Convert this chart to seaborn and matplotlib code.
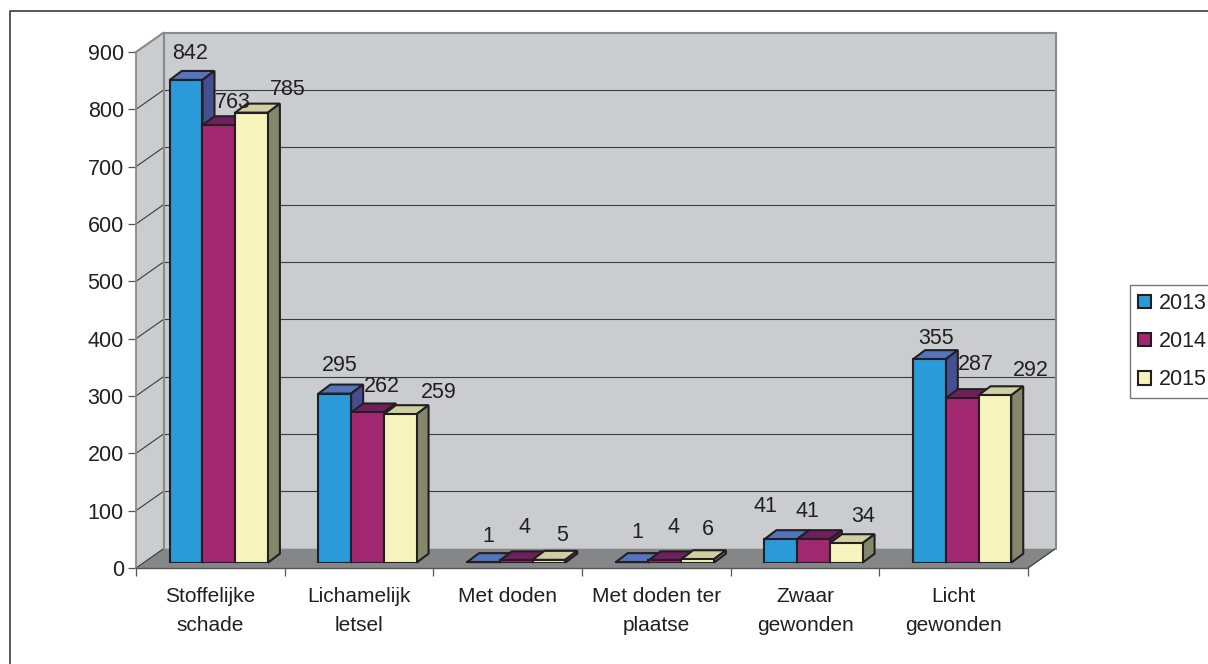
#!/usr/bin/env python3
"""Excel-style 3D column chart of accidents per year, drawn on a seaborn barplot."""

import matplotlib
matplotlib.use("Agg")
import matplotlib.pyplot as plt
import pandas as pd
import seaborn as sns
from matplotlib.lines import Line2D
from matplotlib.patches import Polygon
from matplotlib.transforms import IdentityTransform

categories = [
    "Stoffelijke\nschade",
    "Lichamelijk\nletsel",
    "Met doden",
    "Met doden ter\nplaatse",
    "Zwaar\ngewonden",
    "Licht\ngewonden",
]
years = ["2013", "2014", "2015"]
values_2013 = [842, 295, 1, 1, 41, 355]
values_2014 = [763, 262, 4, 4, 41, 287]
values_2015 = [785, 259, 5, 6, 34, 292]
y_ticks = [0, 100, 200, 300, 400, 500, 600, 700, 800, 900]

front_colors = ["#2a9bd8", "#a12870", "#f6f3bd"]
top_colors = ["#5474bd", "#6f1f5e", "#cfd0a2"]
side_colors = ["#465091", "#5e1a50", "#85876b"]
INK = "#231f20"
WALL = "#cbccd0"
FLOOR = "#858687"
EDGE = "#8a8a8a"
FONT_SIZE = 15.5
BAR_LW = 1.5

# pixel nudges of the value labels from the bar top, per year then category
label_nudge_2013 = [(4, 26), (5, 28), (5, 26), (5, 30), (-15, 33), (7, 21)]
label_nudge_2014 = [(14, 23), (14, 26), (8, 33), (9, 33), (-6, 28), (14, 34)]
label_nudge_2015 = [(36, 23), (39, 22), (13, 24), (10, 30), (17, 27), (36, 25)]

W, H = 1208, 664
BAR_DEPTH = (12, 9)
BACK = (19, 14)  # back wall relative to the bar plane
FRONT = (-8.5, -5.3)  # axis plane relative to the bar plane


def box(left, top, right, bottom):
    return [left / W, 1 - bottom / H, (right - left) / W, (bottom - top) / H]


def main() -> None:
    sns.set_theme(style="white", font="Liberation Sans")
    plt.rcParams["font.family"] = ["Liberation Sans", "DejaVu Sans"]
    plt.rcParams["text.color"] = INK

    df = pd.DataFrame(
        {"categorie": categories, "2013": values_2013, "2014": values_2014, "2015": values_2015}
    ).melt(id_vars="categorie", var_name="jaar", value_name="aantal")

    fig = plt.figure(figsize=(W / 100, H / 100), dpi=100)
    ax_front = fig.add_axes(box(136, 52, 1028, 568), zorder=0)
    ax = fig.add_axes(box(144.5, 46.7, 1036.5, 562.7), zorder=1)

    sns.barplot(
        ax=ax,
        data=df,
        x="categorie",
        y="aantal",
        hue="jaar",
        hue_order=years,
        order=categories,
        palette=front_colors,
        saturation=1,
        width=0.66,
        edgecolor=INK,
        linewidth=BAR_LW,
    )
    ax.set_xlim(-0.5, 5.5)
    ax.set_ylim(0, 900)

    # front plane: ticks and category labels
    ax_front.set_xlim(-0.5, 5.5)
    ax_front.set_ylim(0, 900)
    ax_front.patch.set_visible(False)
    sns.despine(ax=ax_front)
    ax_front.spines["left"].set_color(EDGE)
    ax_front.spines["left"].set_linewidth(1.3)
    ax_front.spines["bottom"].set_color("#555555")
    ax_front.spines["bottom"].set_linewidth(1.0)
    ax_front.set_yticks(y_ticks)
    ax_front.set_xticks([i - 0.5 for i in range(7)])
    ax_front.set_xticklabels([])
    ax_front.set_xticks(range(6), categories, minor=True, linespacing=1.66)
    ax_front.tick_params(axis="y", length=5.8, width=0.9, color="#555555", pad=3,
                         labelsize=FONT_SIZE, labelcolor=INK, left=True)
    ax_front.tick_params(axis="x", which="major", length=5.8, width=0.9, color="#555555", bottom=True)
    ax_front.tick_params(axis="x", which="minor", length=0, pad=14, labelsize=15, labelcolor=INK)

    disp = IdentityTransform()

    def pt(x, y, off=(0, 0)):
        px, py = ax.transData.transform((x, y))
        return (px + off[0], py + off[1])

    def poly(target, points, color, zorder, edge="none", lw=0):
        target.add_patch(Polygon(points, closed=True, facecolor=color, edgecolor=edge, linewidth=lw,
                                 transform=disp, clip_on=False, zorder=zorder, joinstyle="miter"))

    def line(target, a, b, color, lw, zorder):
        target.add_line(Line2D([a[0], b[0]], [a[1], b[1]], color=color, linewidth=lw,
                               transform=disp, clip_on=False, zorder=zorder))

    # walls and floor
    x0, x1 = -0.5, 5.5
    poly(ax_front, [pt(x0, 0, BACK), pt(x1, 0, BACK), pt(x1, 900, BACK), pt(x0, 900, BACK)], WALL, 0.5)
    poly(ax_front, [pt(x0, 0, FRONT), pt(x0, 0, BACK), pt(x0, 900, BACK), pt(x0, 900, FRONT)], WALL, 0.5)
    poly(ax_front, [pt(x0, 0, FRONT), pt(x1, 0, FRONT), pt(x1, 0, BACK), pt(x0, 0, BACK)], FLOOR, 0.6)
    for tick in y_ticks[1:-1]:
        line(ax_front, pt(x0, tick, BACK), pt(x1, tick, BACK), "#3c3c3c", 0.8, 0.7)
    for tick in y_ticks[1:-1]:
        line(ax_front, pt(x0, tick, FRONT), pt(x0, tick, BACK), "#3c3c3c", 0.8, 0.7)
    line(ax_front, pt(x0, 0, FRONT), pt(x0, 0, BACK), "#3c3c3c", 0.8, 0.7)
    line(ax_front, pt(x1, 0, FRONT), pt(x1, 0, BACK), "#3c3c3c", 0.9, 0.7)
    line(ax_front, pt(x0, 900, FRONT), pt(x0, 900, BACK), EDGE, 1.5, 0.8)
    line(ax_front, pt(x0, 0, BACK), pt(x0, 900, BACK), EDGE, 1.5, 0.8)
    line(ax_front, pt(x0, 900, BACK), pt(x1, 900, BACK), EDGE, 1.5, 0.8)
    line(ax_front, pt(x1, 0, BACK), pt(x1, 900, BACK), EDGE, 1.5, 0.8)

    # 3D faces of the bars, left to right so each bar covers its neighbour's side
    bars = [p for p in ax.patches if p.get_height() > 0]
    n_cat = len(categories)
    dx, dy = BAR_DEPTH
    for j, bar in enumerate(bars):
        year_i = j // n_cat
        left = bar.get_x()
        right = left + bar.get_width()
        top = bar.get_height()
        z = 2 + 3 * (bar.get_x() + 1) * 10
        poly(ax, [pt(left, top), pt(right, top), pt(right, top, (dx, dy)), pt(left, top, (dx, dy))],
             top_colors[year_i], z, INK, BAR_LW)
        poly(ax, [pt(right, 0), pt(right, 0, (dx, dy)), pt(right, top, (dx, dy)), pt(right, top)],
             side_colors[year_i], z, INK, BAR_LW)
        bar.set_zorder(z + 1)

    # value labels
    all_values = [values_2013, values_2014, values_2015]
    all_nudges = [label_nudge_2013, label_nudge_2014, label_nudge_2015]
    for j, bar in enumerate(bars):
        year_i, cat_i = divmod(j, n_cat)
        center = bar.get_x() + bar.get_width() / 2
        ax.annotate(
            str(all_values[year_i][cat_i]),
            xy=(center, bar.get_height()),
            xytext=all_nudges[year_i][cat_i],
            textcoords="offset pixels",
            ha="center",
            va="center",
            fontsize=FONT_SIZE,
            color=INK,
            zorder=500,
            annotation_clip=False,
        )

    # legend runs off the right edge like the source picture
    handles, labels = ax.get_legend_handles_labels()
    ax.legend(
        handles,
        labels,
        loc="upper left",
        bbox_to_anchor=(1130 / W, 1 - 285 / H),
        bbox_transform=fig.transFigure,
        borderaxespad=0,
        borderpad=0.37,
        handlelength=0.6,
        handleheight=0.6,
        handletextpad=0.38,
        labelspacing=0.8,
        fontsize=FONT_SIZE,
        frameon=True,
        fancybox=False,
        framealpha=1,
        edgecolor="#777777",
        title=None,
    ).get_frame().set_linewidth(1.0)

    ax.set_axis_off()

    # outer frame, open at right and bottom
    fig.add_artist(Line2D([9.5, 9.5, W], [0, H - 10.5, H - 10.5], color="#4a4a4a", linewidth=1.3,
                          transform=disp))

    fig.savefig("out.png", dpi=100)


if __name__ == "__main__":
    main()
